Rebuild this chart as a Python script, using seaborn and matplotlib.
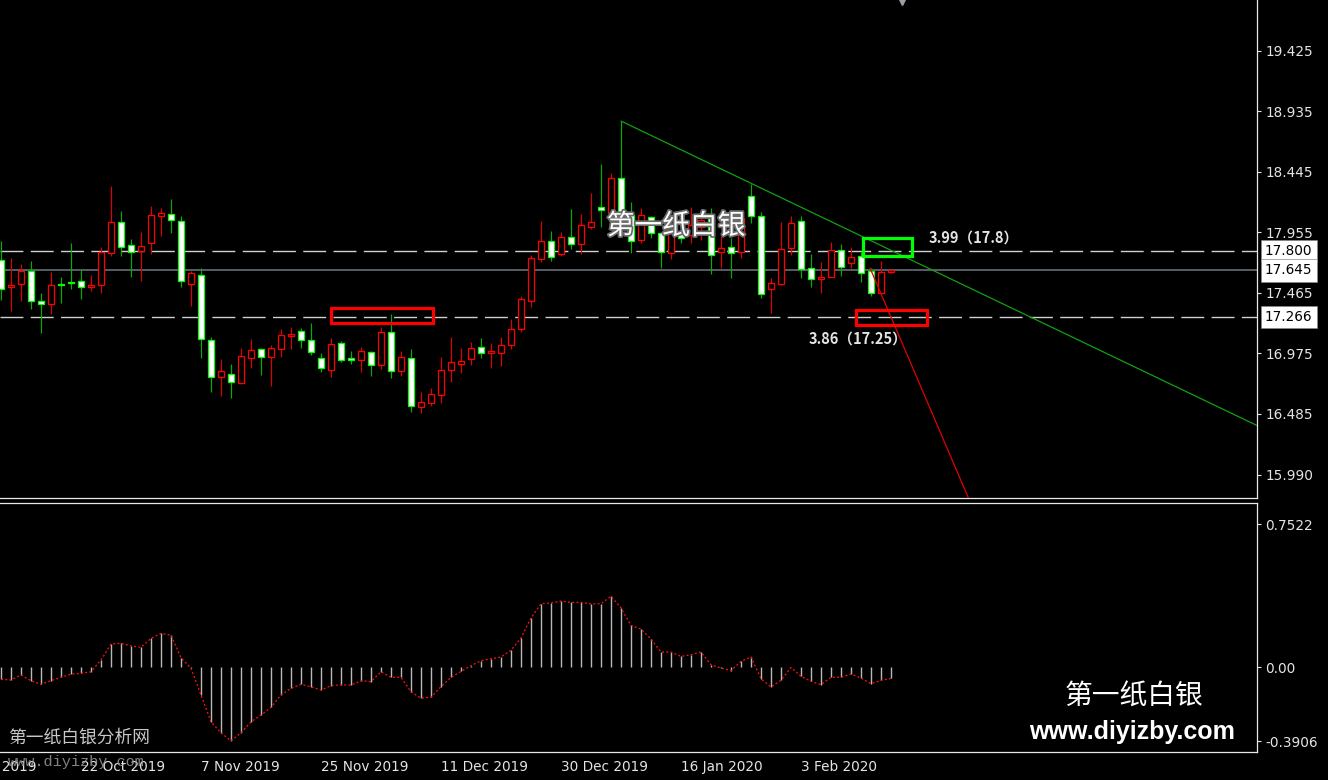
import numpy as np
import pandas as pd
import matplotlib
matplotlib.use("Agg")
import matplotlib.pyplot as plt
import matplotlib.patheffects as pe
import matplotlib.transforms as mtransforms
from matplotlib.patches import Rectangle
import seaborn as sns

# ---------------- data ----------------
opens = [17.730, 17.509, 17.535, 17.641, 17.395, 17.374, 17.538, 17.549, 17.560, 17.509,
         17.525, 17.789, 18.035, 17.849, 17.800, 17.870, 18.084, 18.105, 18.046, 17.535,
         17.608, 17.082, 16.785, 16.807, 16.736, 16.939, 17.009, 16.947, 17.009, 17.117,
         17.155, 17.082, 16.934, 16.839, 17.060, 16.934, 16.918, 16.982, 16.880, 17.144,
         16.829, 16.934, 16.537, 16.574, 16.634, 16.837, 16.888, 16.928, 17.023, 16.979,
         16.979, 17.039, 17.169, 17.395, 17.735, 17.881, 17.776, 17.916, 17.859, 18.000,
         18.159, 18.113, 18.391, 18.094, 17.892, 18.080, 17.951, 17.784, 17.948, 17.932,
         17.997, 18.067, 17.797, 17.833, 17.794, 18.248, 18.086, 17.495, 17.535, 17.827,
         18.046, 17.668, 17.576, 17.595, 17.811, 17.708, 17.762, 17.641, 17.465, 17.630]
highs = [17.886, 17.744, 17.695, 17.724, 17.460, 17.635, 17.592, 17.867, 17.649, 17.611,
         17.833, 18.331, 18.129, 17.897, 17.954, 18.169, 18.148, 18.221, 18.086, 17.643,
         17.663, 17.104, 16.926, 16.885, 17.015, 17.088, 17.015, 17.044, 17.169, 17.187,
         17.177, 17.220, 16.974, 17.096, 17.076, 16.993, 17.023, 16.995, 17.185, 17.290,
         16.993, 17.007, 16.661, 16.691, 16.944, 17.106, 17.015, 17.066, 17.096, 17.055,
         17.104, 17.250, 17.438, 17.770, 18.046, 17.967, 17.956, 18.140, 18.100, 18.272,
         18.505, 18.437, 18.855, 18.202, 18.148, 18.086, 17.959, 18.000, 18.037, 18.161,
         18.127, 18.148, 17.924, 17.906, 18.094, 18.345, 18.118, 17.582, 18.035, 18.086,
         18.086, 17.776, 17.711, 17.878, 17.857, 17.833, 17.797, 17.663, 17.722, 17.655]
lows = [17.406, 17.319, 17.400, 17.331, 17.136, 17.290, 17.379, 17.493, 17.412, 17.481,
        17.460, 17.762, 17.762, 17.595, 17.562, 17.776, 17.927, 17.946, 17.514, 17.360,
        16.939, 16.663, 16.631, 16.615, 16.730, 16.858, 16.796, 16.712, 16.947, 17.009,
        17.015, 16.958, 16.825, 16.785, 16.906, 16.885, 16.825, 16.793, 16.847, 16.777,
        16.793, 16.501, 16.493, 16.550, 16.570, 16.744, 16.812, 16.877, 16.936, 16.855,
        16.874, 17.007, 17.147, 17.352, 17.716, 17.724, 17.765, 17.816, 17.778, 17.981,
        18.000, 18.102, 17.973, 17.789, 17.865, 17.910, 17.668, 17.738, 17.867, 17.867,
        17.892, 17.617, 17.663, 17.582, 17.744, 18.027, 17.424, 17.298, 17.527, 17.770,
        17.582, 17.514, 17.465, 17.590, 17.600, 17.663, 17.549, 17.438, 17.460, 17.627]
closes = [17.493, 17.527, 17.641, 17.398, 17.376, 17.527, 17.525, 17.544, 17.509, 17.527,
          17.792, 18.035, 17.838, 17.792, 17.841, 18.097, 18.108, 18.054, 17.557, 17.622,
          17.090, 16.780, 16.831, 16.740, 16.953, 17.001, 16.942, 17.020, 17.123, 17.128,
          17.082, 16.982, 16.858, 17.052, 16.920, 16.923, 16.993, 16.877, 17.144, 16.829,
          16.944, 16.545, 16.578, 16.642, 16.839, 16.901, 16.912, 17.015, 16.979, 16.990,
          17.042, 17.174, 17.416, 17.748, 17.884, 17.754, 17.916, 17.862, 18.016, 18.035,
          18.135, 18.391, 18.037, 17.884, 18.094, 17.946, 17.792, 17.946, 17.908, 18.013,
          18.054, 17.770, 17.825, 17.784, 18.070, 18.086, 17.454, 17.541, 17.821, 18.027,
          17.657, 17.576, 17.590, 17.811, 17.676, 17.752, 17.627, 17.465, 17.630, 17.645]
macd_hist = [-0.065, -0.068, -0.042, -0.072, -0.091, -0.072, -0.054, -0.037, -0.033, -0.025,
             0.037, 0.121, 0.125, 0.111, 0.104, 0.151, 0.177, 0.168, 0.049, -0.007,
             -0.147, -0.288, -0.346, -0.388, -0.346, -0.288, -0.253, -0.212, -0.147, -0.112,
             -0.091, -0.104, -0.121, -0.098, -0.093, -0.095, -0.072, -0.077, -0.025, -0.054,
             -0.054, -0.130, -0.164, -0.159, -0.103, -0.054, -0.023, 0.007, 0.033, 0.044,
             0.053, 0.088, 0.153, 0.258, 0.333, 0.337, 0.347, 0.340, 0.340, 0.332,
             0.333, 0.372, 0.311, 0.219, 0.200, 0.147, 0.079, 0.079, 0.056, 0.065,
             0.079, 0.012, -0.005, -0.019, 0.030, 0.053, -0.061, -0.105, -0.070, -0.002,
             -0.049, -0.075, -0.093, -0.054, -0.053, -0.037, -0.058, -0.088, -0.070, -0.060]

date_ticks = [-4, 8, 20, 32, 44, 56, 68, 80]
date_labels = ["4 Oct 2019", "22 Oct 2019", "7 Nov 2019", "25 Nov 2019",
               "11 Dec 2019", "30 Dec 2019", "16 Jan 2020", "3 Feb 2020"]
price_ticks = [19.425, 18.935, 18.445, 17.955, 17.465, 16.975, 16.485, 15.990]
price_tick_labels = ["19.425", "18.935", "18.445", "17.955", "17.465", "16.975", "16.485", "15.990"]
level_lines = [17.800, 17.266]
level_labels = ["17.800", "17.266"]
current_price = 17.645
macd_ticks = [0.7522, 0.0, -0.3906]
macd_tick_labels = ["0.7522", "0.00", "-0.3906"]

green_trend_x = [62, 125.6]
green_trend_y = [18.855, 16.390]
red_trend_x = [86.9, 97.0]
red_trend_y = [17.665, 15.754]

red_boxes = [(33.0, 17.217, 10.2, 0.127), (85.5, 17.203, 7.1, 0.122)]
green_boxes = [(86.2, 17.762, 4.9, 0.148)]
upper_note = ("3.99（17.8）", 92.8, 17.908)
lower_note = ("3.86（17.25）", 85.7, 17.090)
watermark = ("第一纸白银", 67.5, 18.005)

df = pd.DataFrame({"bar": np.arange(len(opens)), "open": opens, "high": highs,
                   "low": lows, "close": closes, "macd": macd_hist})

# ---------------- style ----------------
sns.set_theme(style="dark", rc={"axes.facecolor": "black", "figure.facecolor": "black"})
plt.rcParams["font.family"] = ["DejaVu Sans", "Noto Sans CJK SC"]
CJK = ["Noto Sans CJK SC", "DejaVu Sans"]
TXT = "#e4e4e4"
XLIM = (-0.1, 125.6)

W, H = 1328, 780
fig = plt.figure(figsize=(W / 100, H / 100), dpi=100, facecolor="black")
ax = fig.add_axes([0, 1 - 498 / H, 1257 / W, 498 / H])
ax2 = fig.add_axes([0, 1 - 752 / H, 1257 / W, (752 - 503) / H])

for a in (ax, ax2):
    a.set_facecolor("black")
    a.grid(False)
    a.spines["left"].set_visible(False)
    for s in ("right", "bottom", "top"):
        a.spines[s].set_color("#e8e8e8")
        a.spines[s].set_linewidth(0.9)
    a.yaxis.tick_right()
    a.tick_params(axis="y", colors=TXT, length=3, width=0.8, pad=3, labelsize=9.8, direction="out",
                  left=False, right=True)
ax.spines["top"].set_visible(False)

# ---------------- main panel ----------------
for lv in level_lines:
    ax.axhline(lv, color="#d0d0d0", lw=1.0, dashes=(16.5, 5.3), zorder=1)
ax.axhline(current_price, color="#6e7882", lw=1.1, zorder=1)

up = df[df["close"] >= df["open"]]
dn = df[df["close"] < df["open"]]
ax.vlines(up["bar"], up["low"], up["high"], color="#e00000", lw=0.85, zorder=2)
ax.vlines(dn["bar"], dn["low"], dn["high"], color="#00b000", lw=0.85, zorder=2)
ax.bar(up["bar"], np.maximum((up["close"] - up["open"]).abs(), 0.003), bottom=up["open"],
       width=0.56, color="black", edgecolor="#ff0000", linewidth=0.9, zorder=3)
ax.bar(dn["bar"], np.maximum((dn["open"] - dn["close"]).abs(), 0.003), bottom=dn["close"],
       width=0.56, color="white", edgecolor="#00ff00", linewidth=0.9, zorder=3)

sns.lineplot(x=green_trend_x, y=green_trend_y, ax=ax, color="#12a012", lw=0.9, zorder=4)
sns.lineplot(x=red_trend_x, y=red_trend_y, ax=ax, color="#e00000", lw=0.9, zorder=4)

for (x0, y0, w, h) in red_boxes:
    ax.add_patch(Rectangle((x0, y0), w, h, fill=False, ec="#ff0000", lw=2.3, zorder=5))
for (x0, y0, w, h) in green_boxes:
    ax.add_patch(Rectangle((x0, y0), w, h, fill=False, ec="#00ff00", lw=2.3, zorder=5))

ax.text(upper_note[1], upper_note[2], upper_note[0], color=TXT, fontsize=10.5, fontweight="bold",
        ha="left", va="center", family=CJK, zorder=6)
ax.text(lower_note[1], lower_note[2], lower_note[0], color=TXT, fontsize=10.5, fontweight="bold",
        ha="center", va="center", family=CJK, zorder=6)
ax.text(watermark[1], watermark[2], watermark[0], color="white", fontsize=20,
        ha="center", va="center", family=CJK, zorder=8,
        path_effects=[pe.withStroke(linewidth=2.5, foreground="#6a6a6a")])

ax.plot([90.1], [19.835], marker="v", color="#9aa0a8", ms=7, clip_on=True, zorder=6)

ax.set_xticks([])
ax.set_yticks(price_ticks, price_tick_labels)
ax.set_xlim(*XLIM)
ax.set_ylim(15.803, 19.835)
trans = mtransforms.blended_transform_factory(ax.transAxes, ax.transData)
for val, lab in zip(level_lines + [current_price], level_labels + ["17.645"]):
    ax.text(1 + 8 / 1257, val, lab, transform=trans, ha="left", va="center", color="black",
            fontsize=9.8, clip_on=False, zorder=10,
            bbox=dict(boxstyle="square,pad=0.3", fc="white", ec="#888888", lw=0.5))

# ---------------- lower panel ----------------
ax2.vlines(df["bar"], 0, df["macd"], color="#b8b8b8", lw=1.0, zorder=2)
ax2.plot(df["bar"], df["macd"], color="#ff1010", lw=0.9, dashes=(1.6, 1.8), zorder=3)
ax2.set_yticks(macd_ticks, macd_tick_labels)
ax2.set_xticks(date_ticks[1:], date_labels[1:])
ax2.tick_params(axis="x", colors=TXT, length=4, width=0.8, pad=2, labelsize=9.8, direction="out")
for lbl in ax2.get_xticklabels():
    lbl.set_horizontalalignment("left")
ax2.set_xlim(*XLIM)
ax2.set_ylim(-0.447, 0.863)
# first date label lies left of the visible range and is cut by the figure edge
ax2.annotate(date_labels[0], xy=(date_ticks[0], 0), xycoords=("data", "axes fraction"),
             xytext=(0, -6), textcoords="offset points", ha="left", va="top",
             color=TXT, fontsize=9.8, annotation_clip=False)

# ---------------- branding ----------------
fig.text(1134 / W, 1 - 697 / H, "第一纸白银", color="white", fontsize=20, ha="center", va="center",
         family=CJK)
fig.text(1132 / W, 1 - 732 / H, "www.diyizby.com", color="white", fontsize=18, fontweight="bold",
         ha="center", va="center", family=["Liberation Sans", "DejaVu Sans"])
fig.text(8 / W, 1 - 738 / H, "第一纸白银分析网", color="#c8c8c8", fontsize=12.8, ha="left", va="center",
         family=CJK)
fig.text(8 / W, 1 - 762 / H, "www.diyizby.com", color="#9a9a9a", alpha=0.85, fontsize=11,
         ha="left", va="center", family=["Liberation Mono", "DejaVu Sans Mono"])

fig.savefig("out.png", dpi=100, facecolor="black")
